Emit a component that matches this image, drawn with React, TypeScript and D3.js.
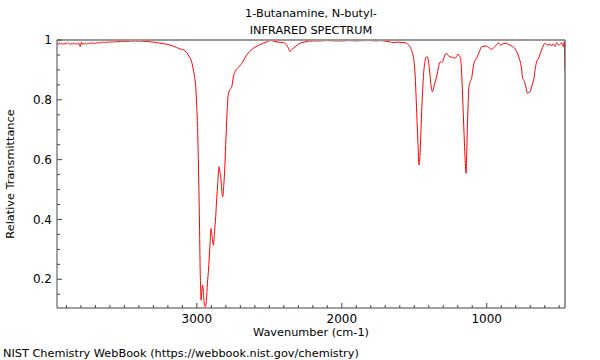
import React from "react";
import * as d3 from "d3";

const titleLines = ["1-Butanamine, N-butyl-", "INFRARED SPECTRUM"];
const xLabel = "Wavenumber (cm-1)";
const yLabel = "Relative Transmittance";
const footer = "NIST Chemistry WebBook (https://webbook.nist.gov/chemistry)";

const xMajorTicks = [3000, 2000, 1000];
const yMajorTicks = [0.2, 0.4, 0.6, 0.8, 1];
const yTickLabels = ["0.2", "0.4", "0.6", "0.8", "1"];

const wavenumbers = [
  3965, 3955, 3948, 3940, 3932, 3925, 3917, 3910, 3902, 3895, 3887, 3880, 3872, 3865, 3857, 3850,
  3842, 3835, 3827, 3820, 3812, 3805, 3797, 3790, 3782, 3775, 3767, 3760, 3750, 3740, 3730, 3720,
  3710, 3700, 3690, 3680, 3670, 3660, 3650, 3640, 3630, 3620, 3610, 3600, 3590, 3580, 3570, 3560,
  3545, 3530, 3515, 3500, 3485, 3470, 3455, 3440, 3425, 3410, 3395, 3380, 3365, 3350, 3335, 3323,
  3300, 3280, 3260, 3240, 3220, 3200, 3185, 3160, 3140, 3120, 3093, 3070, 3052, 3035, 3024, 3015,
  3008, 3002, 2996, 2990, 2985, 2981, 2978, 2974, 2971, 2966, 2960, 2954, 2948, 2941, 2934, 2927,
  2920, 2914, 2908, 2902, 2894, 2886, 2878, 2870, 2863, 2856, 2851, 2847, 2840, 2833, 2827, 2821,
  2815, 2808, 2801, 2794, 2788, 2783, 2770, 2759, 2748, 2735, 2721, 2705, 2690, 2672, 2656, 2635,
  2610, 2575, 2541, 2515, 2495, 2470, 2440, 2403, 2390, 2380, 2368, 2357, 2345, 2334, 2310, 2288,
  2260, 2230, 2200, 2150, 2100, 2050, 2000, 1950, 1900, 1850, 1800, 1760, 1737, 1700, 1670, 1645,
  1620, 1590, 1564, 1545, 1530, 1518, 1507, 1500, 1495, 1489, 1483, 1475, 1467, 1461, 1456, 1449,
  1442, 1435, 1428, 1421, 1414, 1407, 1400, 1393, 1386, 1380, 1375, 1368, 1362, 1354, 1346, 1339,
  1332, 1324, 1316, 1310, 1304, 1296, 1288, 1282, 1277, 1266, 1254, 1236, 1219, 1208, 1197, 1191,
  1185, 1179, 1173, 1167, 1162, 1156, 1150, 1146, 1143, 1138, 1134, 1128, 1123, 1113, 1104, 1096,
  1088, 1076, 1065, 1050, 1035, 1018, 1000, 983, 966, 955, 943, 931, 920, 912, 904, 889,
  874, 857, 840, 823, 806, 795, 783, 775, 766, 759, 752, 744, 736, 728, 720, 710,
  701, 693, 686, 680, 674, 665, 656, 647, 638, 630, 621, 610, 598, 587, 575, 563,
  552, 546, 541, 535, 529, 523, 517, 508, 499, 491, 483, 477, 472, 468, 465, 462, 460,
];

const transmittance = [
  0.99, 0.985, 0.991, 0.987, 0.99, 0.985, 0.989, 0.986, 0.991, 0.987, 0.99, 0.988, 0.984, 0.989, 0.987, 0.99,
  0.986, 0.989, 0.985, 0.99, 0.988, 0.978, 0.992, 0.985, 0.99, 0.987, 0.989, 0.986, 0.99, 0.988, 0.991, 0.989,
  0.99, 0.988, 0.991, 0.99, 0.992, 0.99, 0.993, 0.991, 0.993, 0.992, 0.994, 0.992, 0.994, 0.993, 0.995, 0.993,
  0.995, 0.994, 0.996, 0.995, 0.996, 0.995, 0.997, 0.996, 0.997, 0.996, 0.997, 0.996, 0.996, 0.995, 0.995, 0.994,
  0.993, 0.991, 0.99, 0.988, 0.987, 0.985, 0.983, 0.979, 0.975, 0.971, 0.967, 0.958, 0.944, 0.925, 0.9, 0.875,
  0.844, 0.79, 0.72, 0.6, 0.476, 0.36, 0.254, 0.17, 0.13, 0.16, 0.18, 0.15, 0.115, 0.108, 0.13, 0.187,
  0.23, 0.275, 0.33, 0.37, 0.34, 0.314, 0.36, 0.41, 0.47, 0.52, 0.56, 0.576, 0.555, 0.532, 0.49, 0.476,
  0.51, 0.565, 0.65, 0.732, 0.79, 0.82, 0.835, 0.844, 0.877, 0.895, 0.905, 0.913, 0.922, 0.937, 0.95, 0.962,
  0.972, 0.982, 0.989, 0.994, 0.998, 0.996, 0.993, 0.991, 0.988, 0.983, 0.972, 0.961, 0.968, 0.972, 0.982, 0.989,
  0.993, 0.996, 0.997, 0.997, 0.998, 0.997, 0.997, 0.998, 0.997, 0.998, 0.998, 0.997, 0.998, 0.996, 0.994, 0.991,
  0.993, 0.992, 0.991, 0.986, 0.978, 0.965, 0.944, 0.92, 0.889, 0.83, 0.755, 0.66, 0.582, 0.61, 0.666, 0.76,
  0.833, 0.89, 0.922, 0.94, 0.944, 0.94, 0.922, 0.89, 0.855, 0.835, 0.827, 0.835, 0.85, 0.862, 0.877, 0.895,
  0.911, 0.925, 0.927, 0.925, 0.927, 0.94, 0.95, 0.955, 0.955, 0.948, 0.944, 0.942, 0.939, 0.945, 0.953, 0.948,
  0.944, 0.935, 0.889, 0.82, 0.755, 0.68, 0.61, 0.57, 0.554, 0.62, 0.7, 0.79, 0.844, 0.862, 0.872, 0.9,
  0.922, 0.935, 0.944, 0.962, 0.978, 0.979, 0.98, 0.974, 0.969, 0.972, 0.978, 0.985, 0.991, 0.987, 0.983, 0.987,
  0.989, 0.987, 0.983, 0.978, 0.972, 0.962, 0.95, 0.937, 0.922, 0.9, 0.872, 0.865, 0.855, 0.838, 0.822, 0.825,
  0.827, 0.84, 0.85, 0.86, 0.872, 0.905, 0.927, 0.936, 0.944, 0.956, 0.967, 0.98, 0.989, 0.985, 0.983, 0.986,
  0.98, 0.986, 0.987, 0.982, 0.978, 0.985, 0.991, 0.985, 0.983, 0.988, 0.991, 0.984, 0.978, 0.986, 0.994, 0.95, 0.9,
];

const W = 600;
const H = 360;
const L = 57, R = 565, T = 40, B = 308;

export default function App() {
  const x = d3.scaleLinear().domain([3965, 460]).range([L, R]);
  const y = d3.scaleLinear().domain([0.104, 1]).range([B, T]);
  const data = wavenumbers.map((w, i) => [w, transmittance[i]] as [number, number]);
  const line = d3
    .line<[number, number]>()
    .x((d) => x(d[0]))
    .y((d) => y(d[1]))
    .curve(d3.curveMonotoneX);
  const xMinor = d3.range(500, 3965, 100).filter((v) => !xMajorTicks.includes(v));
  const yMinor = d3.range(0.15, 1, 0.05).filter((v) => !yMajorTicks.some((m) => Math.abs(m - v) < 1e-6));
  const font = "DejaVu Sans, sans-serif";
  const labelSize = 11.3;

  return (
    <svg
      width={W}
      height={H}
      style={{ position: "absolute", left: 0, top: 0, background: "#fff" }}
      fontFamily={font}
    >
      <defs>
        <clipPath id="plotclip">
          <rect x={L} y={T} width={R - L} height={B - T} />
        </clipPath>
      </defs>
      <rect x={0} y={0} width={W} height={H} fill="#fff" />
      {titleLines.map((t, i) => (
        <text key={t} x={(L + R) / 2} y={17 + i * 17} textAnchor="middle" fontSize={labelSize} fill="#000">
          {t}
        </text>
      ))}
      <path d={line(data) || ""} fill="none" stroke="#ff0000" strokeWidth={1} clipPath="url(#plotclip)" />
      {/* frame */}
      <line x1={L} y1={T} x2={R} y2={T} stroke="#999" strokeWidth={2} />
      <line x1={L} y1={T} x2={L} y2={B} stroke="#666" strokeWidth={1.2} />
      <line x1={R} y1={T} x2={R} y2={B} stroke="#555" strokeWidth={1.2} />
      <line x1={L} y1={B} x2={R} y2={B} stroke="#444" strokeWidth={1.2} />
      {/* y ticks */}
      {yMajorTicks.map((v, i) => (
        <g key={"ym" + v}>
          <line x1={L} x2={L + 5} y1={y(v)} y2={y(v)} stroke="#444" />
          <text x={L - 5} y={y(v)} dy="0.35em" textAnchor="end" fontSize={12} fill="#000">
            {yTickLabels[i]}
          </text>
        </g>
      ))}
      {yMinor.map((v) => (
        <line key={"yn" + v} x1={L} x2={L + 3} y1={y(v)} y2={y(v)} stroke="#444" />
      ))}
      {/* x ticks */}
      {xMajorTicks.map((v) => (
        <g key={"xm" + v}>
          <line x1={x(v)} x2={x(v)} y1={B} y2={B - 5} stroke="#444" />
          <text x={x(v)} y={B + 15} textAnchor="middle" fontSize={12} fill="#000">
            {v}
          </text>
        </g>
      ))}
      {xMinor.map((v) => (
        <line key={"xn" + v} x1={x(v)} x2={x(v)} y1={B} y2={B - 3} stroke="#444" />
      ))}
      <text x={(L + R) / 2} y={336} textAnchor="middle" fontSize={labelSize} fill="#000">
        {xLabel}
      </text>
      <text
        transform={`translate(14, ${(T + B) / 2}) rotate(-90)`}
        textAnchor="middle"
        fontSize={labelSize}
        fill="#000"
      >
        {yLabel}
      </text>
      <text x={3} y={357} fontSize={labelSize} fill="#000">
        {footer}
      </text>
    </svg>
  );
}
